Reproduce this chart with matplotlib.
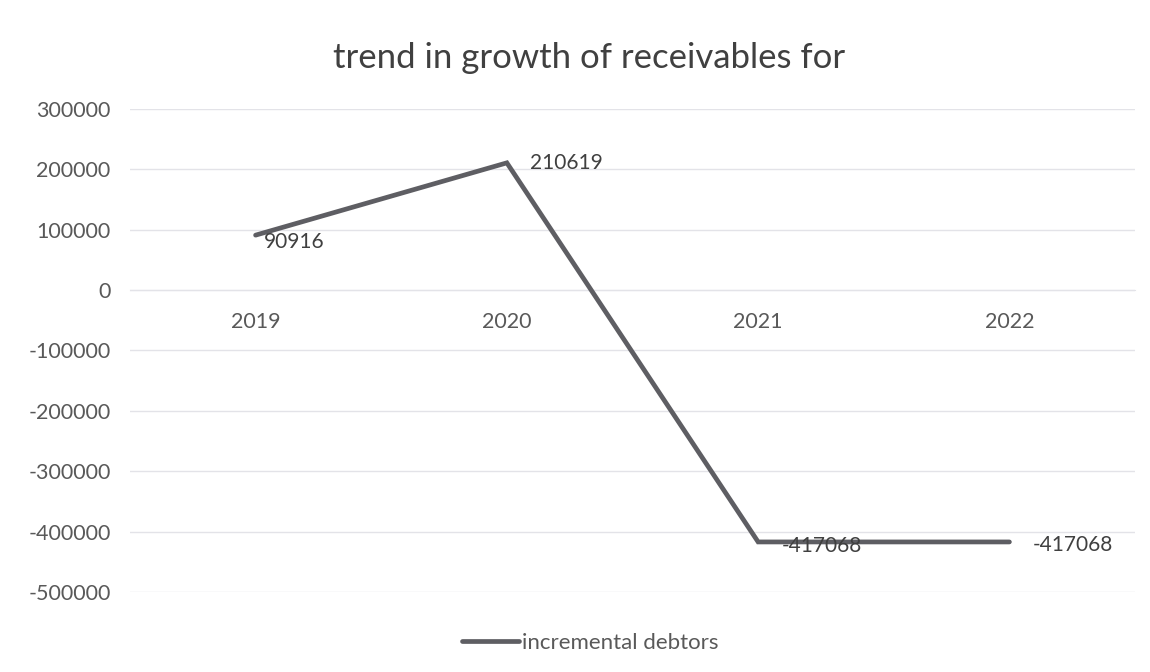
import matplotlib
matplotlib.use("Agg")
import matplotlib.pyplot as plt
from matplotlib.ticker import MultipleLocator

YEARS = ["2019", "2020", "2021", "2022"]
INCREMENTAL_DEBTORS = [90916, 210619, -417068, -417068]
LABEL_OFFSETS = [(6, -5), (17, 0), (17, -3), (17, -2)]

plt.rcParams["font.family"] = ["Lato", "DejaVu Sans"]
TEXT = "#595959"
LINE = "#5e5e63"
GRID = "#e3e3e8"

fig = plt.figure(figsize=(11.5, 6.72), dpi=100)
ax = fig.add_axes([0.113, 0.119, 0.874, 0.719])

x = list(range(len(YEARS)))
ax.plot(x, INCREMENTAL_DEBTORS, color=LINE, linewidth=3.4,
        solid_capstyle="round", solid_joinstyle="miter",
        label="incremental debtors", zorder=3)

for xi, val, (dx, dy) in zip(x, INCREMENTAL_DEBTORS, LABEL_OFFSETS):
    ax.annotate(f"{val}", (xi, val), xytext=(dx, dy), textcoords="offset points",
                ha="left", va="center", fontsize=15, color="#404040", zorder=4)

ax.set_xlim(-0.5, len(YEARS) - 0.5)
ax.set_ylim(-500000, 300000)
ax.yaxis.set_major_locator(MultipleLocator(100000))
ax.yaxis.grid(True, color=GRID, linewidth=1)
ax.set_axisbelow(True)

ax.set_xticks(x)
ax.set_xticklabels(YEARS)
for side in ["left", "right", "top"]:
    ax.spines[side].set_visible(False)
ax.spines["bottom"].set_position(("data", 0))
ax.spines["bottom"].set_color(GRID)
ax.tick_params(axis="x", length=0, pad=16, labelsize=15.5, labelcolor=TEXT)
ax.tick_params(axis="y", length=0, pad=14, labelsize=15.5, labelcolor=TEXT)
ax.yaxis.set_major_formatter(plt.FuncFormatter(lambda v, _: f"{int(v)}"))

fig.text(0.512, 0.914, "trend in growth of receivables for", ha="center", va="center",
         fontsize=25, color="#404040")

fig.legend(loc="center", bbox_to_anchor=(0.513, 0.043), frameon=False,
           fontsize=16, labelcolor=TEXT, handlelength=2.6, handletextpad=0.1)

fig.savefig("out.png", dpi=100, facecolor="white")
